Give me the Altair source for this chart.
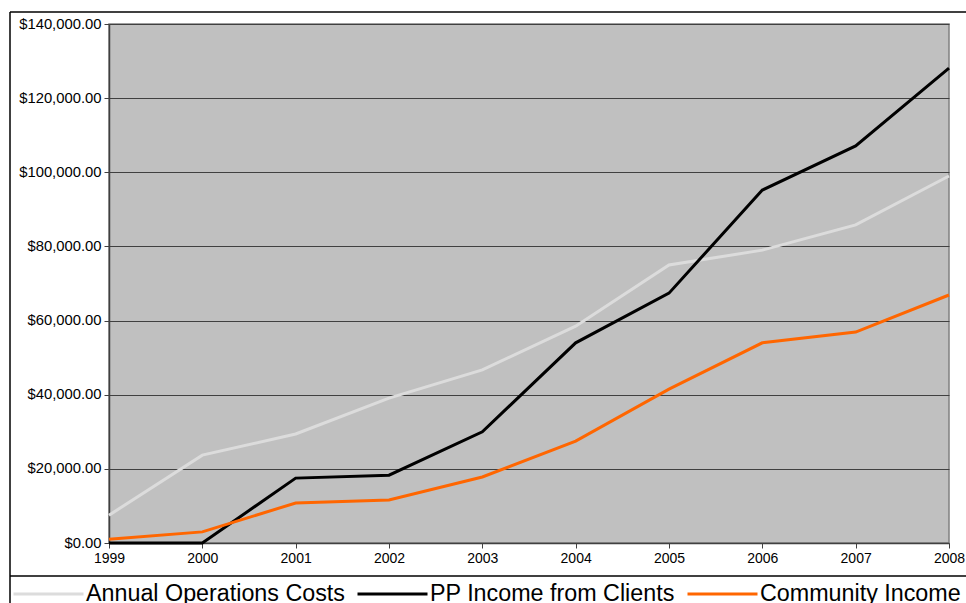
import altair as alt
import pandas as pd

years = ["1999", "2000", "2001", "2002", "2003", "2004", "2005", "2006", "2007", "2008"]
operations_costs = [7500, 23700, 29400, 39100, 46700, 58500, 75000, 79000, 85800, 99000]
pp_income = [0, 0, 17500, 18300, 30000, 54000, 67400, 95200, 107100, 128100]
community_income = [1000, 3000, 10800, 11600, 17800, 27500, 41500, 54000, 56900, 66900]
y_ticks = [0, 20000, 40000, 60000, 80000, 100000, 120000, 140000]

series_names = ["Annual Operations Costs", "PP Income from Clients", "Community Income"]
series_colors = ["#DCDCDC", "#000000", "#FF6600"]

rows = []
for name, values in zip(series_names, [operations_costs, pp_income, community_income]):
    for yr, v in zip(years, values):
        rows.append({"Year": yr, "Amount": v, "Series": name})
df = pd.DataFrame(rows)

lines = alt.Chart(df).mark_line(strokeWidth=3, clip=False).encode(
    x=alt.X(
        "Year:O",
        sort=years,
        scale=alt.Scale(type="point", padding=0),
        axis=alt.Axis(title=None, labelAngle=0, tickSize=5, labelPadding=3,
                      grid=False, labelFontSize=14, labelOverlap=False),
    ),
    y=alt.Y(
        "Amount:Q",
        scale=alt.Scale(domain=[0, 140000], nice=False),
        axis=alt.Axis(title=None, format="$,.2f", values=y_ticks,
                      tickSize=5, labelPadding=3, grid=True, labelFontSize=14.8,
                      labelOverlap=False),
    ),
    color=alt.Color(
        "Series:N",
        sort=series_names,
        scale=alt.Scale(domain=series_names, range=series_colors),
        legend=alt.Legend(
            title=None,
            orient="none",
            legendX=-97,
            legendY=557.5,
            direction="horizontal",
            symbolType="stroke",
            symbolSize=4900,
            symbolStrokeWidth=3,
            clipHeight=25,
            labelFontSize=23.3,
            labelOffset=1,
            columnPadding=11,
            labelLimit=400,
            padding=0,
        ),
    ),
)

frame = alt.Data(values=[{"k": 1}])
left_border = alt.Chart(frame).mark_rule(color="#000000", strokeWidth=1.5).encode(
    x=alt.value(-99), y=alt.value(-12), y2=alt.value(600)
)
top_border = alt.Chart(frame).mark_rule(color="#000000", strokeWidth=1.5).encode(
    x=alt.value(-99), x2=alt.value(900), y=alt.value(-12)
)
legend_border = alt.Chart(frame).mark_rule(color="#000000", strokeWidth=1.5).encode(
    x=alt.value(-99), x2=alt.value(900), y=alt.value(552)
)

chart = alt.layer(lines, left_border, top_border, legend_border).properties(
    width=840,
    height=519,
    padding={"left": 109, "top": 24, "right": 17, "bottom": 60},
    autosize=alt.AutoSizeParams(type="none"),
    background="#FFFFFF",
).configure_view(
    fill="#C0C0C0", stroke="#808080", strokeWidth=1.5
).configure_axis(
    domainColor="#404040", tickColor="#404040", gridColor="#404040",
    gridOpacity=1, labelColor="#000000", labelFont="Liberation Sans",
    domainWidth=1.5,
).configure_legend(
    labelFont="Liberation Sans", labelColor="#000000"
)

chart.save("out.html", embed_options={"renderer": "svg", "actions": False})
